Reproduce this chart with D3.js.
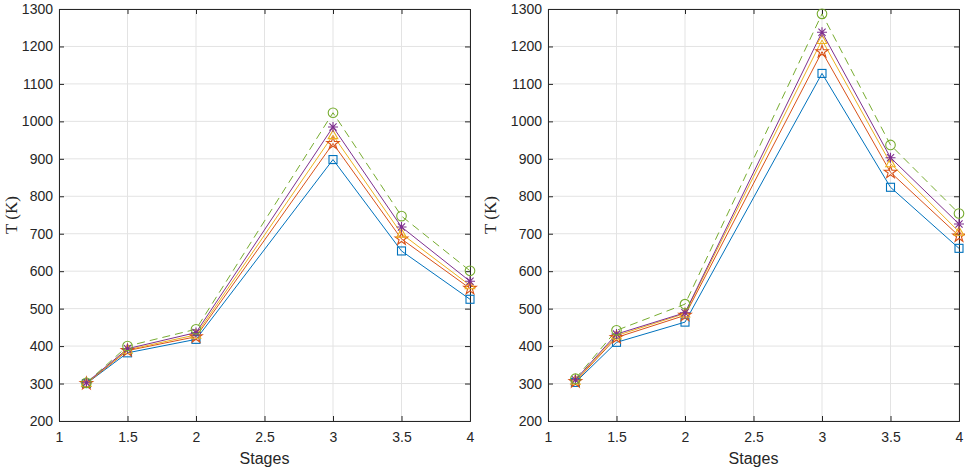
<!DOCTYPE html>
<html>
<head>
<meta charset="utf-8">
<script src="https://cdn.jsdelivr.net/npm/d3@7"></script>
<style>
  body { margin: 0; background: #fff; }
  svg { display: block; }
  .tick text { font-family: "Liberation Sans", Arial, sans-serif; font-size: 14px; fill: #262626; }
</style>
</head>
<body>
<svg width="965" height="470"></svg>
<script>
// stage positions
var stages = [1.2, 1.5, 2, 3, 3.5, 4];

// left panel
var leftSquare   = [300, 382, 418, 898, 654, 525];
var leftStar     = [300, 388, 425, 941, 686, 554];
var leftTriangle = [301, 390, 430, 963, 700, 562];
var leftAsterisk = [302, 393, 436, 985, 718, 573];
var leftCircle   = [302, 400, 445, 1023, 747, 601];

// right panel
var rightSquare   = [303, 410, 464, 1128, 824, 661];
var rightStar     = [305, 423, 482, 1186, 864, 694];
var rightTriangle = [307, 428, 487, 1217, 888, 705];
var rightAsterisk = [310, 432, 489, 1238, 903, 726];
var rightCircle   = [313, 442, 512, 1287, 937, 754];

var xTicks = [1, 1.5, 2, 2.5, 3, 3.5, 4];
var yTicks = [200, 300, 400, 500, 600, 700, 800, 900, 1000, 1100, 1200, 1300];

var colors = {
  square: "#0072BD", star: "#D95319", triangle: "#EDB120",
  asterisk: "#7E2F8E", circle: "#77AC30"
};

var svg = d3.select("svg");

function drawPanel(left, right, labelX, series) {
  var top = 9, bottom = 421;
  var x = d3.scaleLinear().domain([1, 4]).range([left, right]);
  var y = d3.scaleLinear().domain([200, 1300]).range([bottom, top]);
  var g = svg.append("g");

  // grid
  g.append("g").selectAll("line").data(xTicks).enter().append("line")
    .attr("x1", function(d) { return x(d); }).attr("x2", function(d) { return x(d); })
    .attr("y1", top).attr("y2", bottom)
    .attr("stroke", "#e3e3e3").attr("stroke-width", 1);
  g.append("g").selectAll("line").data(yTicks).enter().append("line")
    .attr("x1", left).attr("x2", right)
    .attr("y1", function(d) { return y(d); }).attr("y2", function(d) { return y(d); })
    .attr("stroke", "#e3e3e3").attr("stroke-width", 1);

  // axes (ticks inward)
  var ax = g.append("g").attr("transform", "translate(0," + bottom + ")")
    .call(d3.axisBottom(x).tickValues(xTicks).tickSize(-5).tickPadding(11).tickFormat(d3.format("")));
  var ay = g.append("g").attr("transform", "translate(" + left + ",0)")
    .call(d3.axisLeft(y).tickValues(yTicks).tickSize(-5).tickPadding(6).tickFormat(d3.format("d")));
  var axT = g.append("g").attr("transform", "translate(0," + top + ")")
    .call(d3.axisTop(x).tickValues(xTicks).tickSize(-5).tickFormat(""));
  var ayR = g.append("g").attr("transform", "translate(" + right + ",0)")
    .call(d3.axisRight(y).tickValues(yTicks).tickSize(-5).tickFormat(""));
  [ax, ay, axT, ayR].forEach(function(a) {
    a.selectAll("path, line").attr("stroke", "#262626");
  });

  // lines
  var line = d3.line().x(function(d) { return x(d[0]); }).y(function(d) { return y(d[1]); });
  series.forEach(function(s) {
    var pts = stages.map(function(v, i) { return [v, s.values[i]]; });
    g.append("path").datum(pts)
      .attr("d", line).attr("fill", "none")
      .attr("stroke", colors[s.marker]).attr("stroke-width", 1)
      .attr("stroke-dasharray", s.dashed ? "8,5" : null);
  });

  // markers
  series.forEach(function(s) {
    var c = colors[s.marker];
    var mg = g.append("g").attr("fill", "none").attr("stroke", c).attr("stroke-width", 1.1);
    stages.forEach(function(v, i) {
      var px = x(v), py = y(s.values[i]);
      var m = mg.append("g").attr("transform", "translate(" + px + "," + py + ")");
      if (s.marker === "square") {
        m.append("rect").attr("x", -4).attr("y", -4).attr("width", 8).attr("height", 8);
      } else if (s.marker === "circle") {
        m.append("circle").attr("r", 4.8);
      } else if (s.marker === "triangle") {
        m.append("path").attr("d", "M0,-5L4.8,3.4L-4.8,3.4Z");
      } else if (s.marker === "star") {
        m.append("path").attr("d", d3.symbol(d3.symbolStar, 48)());
      } else if (s.marker === "asterisk") {
        m.append("path").attr("d", "M-5,0H5M0,-5V5M-3.6,-3.6L3.6,3.6M-3.6,3.6L3.6,-3.6");
      }
    });
  });

  // labels
  g.append("text")
    .attr("x", (left + right) / 2).attr("y", 464)
    .attr("text-anchor", "middle")
    .attr("font-family", "Liberation Sans, Arial, sans-serif")
    .attr("font-size", 16).attr("fill", "#262626")
    .text("Stages");
  g.append("text")
    .attr("transform", "translate(" + labelX + "," + ((top + bottom) / 2) + ") rotate(-90)")
    .attr("text-anchor", "middle")
    .attr("dy", "0.35em")
    .attr("font-family", "Liberation Serif, DejaVu Serif, serif")
    .attr("font-size", 17).attr("fill", "#262626")
    .text("T (K)");
}

drawPanel(59, 470, 11, [
  { marker: "square", values: leftSquare },
  { marker: "star", values: leftStar },
  { marker: "triangle", values: leftTriangle },
  { marker: "asterisk", values: leftAsterisk },
  { marker: "circle", values: leftCircle, dashed: true }
]);

drawPanel(548, 959, 490, [
  { marker: "square", values: rightSquare },
  { marker: "star", values: rightStar },
  { marker: "triangle", values: rightTriangle },
  { marker: "asterisk", values: rightAsterisk },
  { marker: "circle", values: rightCircle, dashed: true }
]);
</script>
</body>
</html>
